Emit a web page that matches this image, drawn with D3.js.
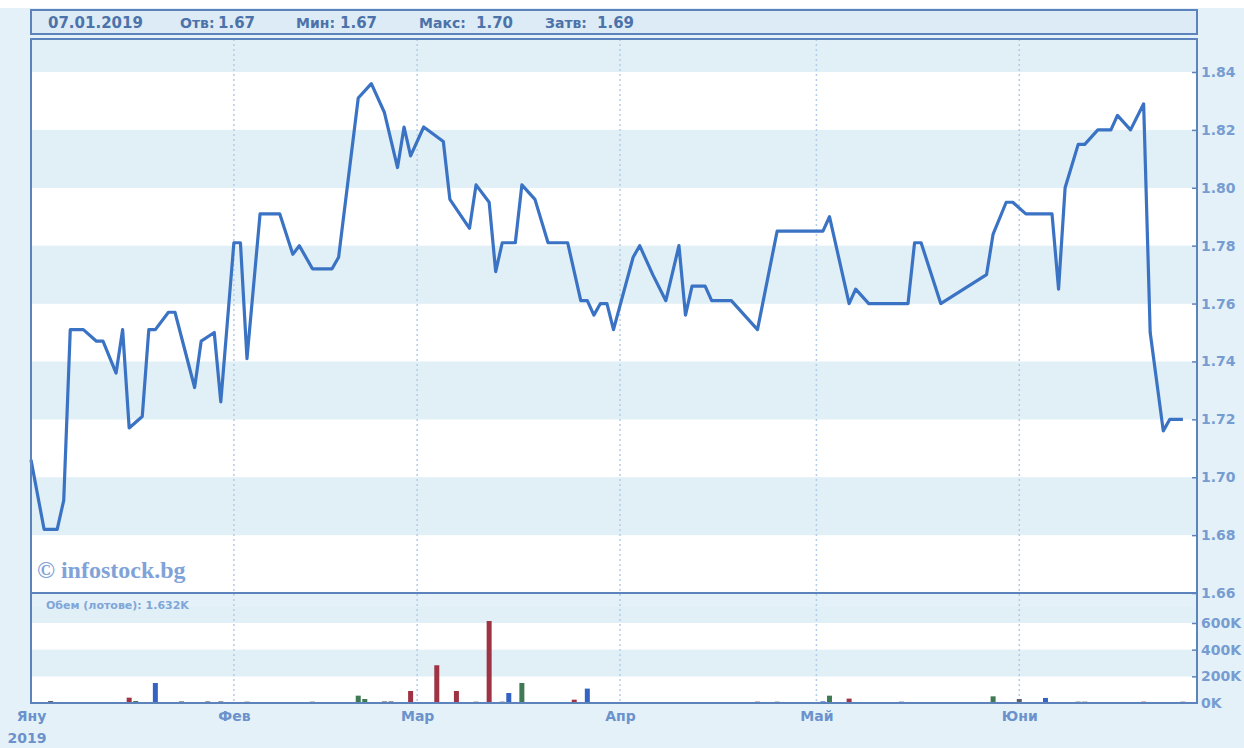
<!DOCTYPE html>
<html>
<head>
<meta charset="utf-8">
<script src="https://cdn.jsdelivr.net/npm/d3@7"></script>
<style>
  html, body { margin: 0; padding: 0; background: #e4f1f8; }
  svg { display: block; }
</style>
</head>
<body>
<svg id="chart" width="1244" height="748"></svg>
<script>
// price line (date, close)
const priceDates = [
  "2019-01-01","2019-01-03","2019-01-05","2019-01-06","2019-01-07","2019-01-09","2019-01-11","2019-01-12",
  "2019-01-14","2019-01-15","2019-01-16","2019-01-18","2019-01-19","2019-01-20","2019-01-22","2019-01-23",
  "2019-01-26","2019-01-27","2019-01-29","2019-01-30","2019-02-01","2019-02-02","2019-02-03","2019-02-05",
  "2019-02-08","2019-02-10","2019-02-11","2019-02-13","2019-02-16","2019-02-17","2019-02-20","2019-02-22",
  "2019-02-24","2019-02-26","2019-02-27","2019-02-28","2019-03-02","2019-03-05","2019-03-06","2019-03-09",
  "2019-03-10","2019-03-12","2019-03-13","2019-03-14","2019-03-16","2019-03-17","2019-03-19","2019-03-21",
  "2019-03-24","2019-03-26","2019-03-27","2019-03-28","2019-03-29","2019-03-30","2019-03-31","2019-04-03",
  "2019-04-04","2019-04-06","2019-04-08","2019-04-10","2019-04-11","2019-04-12","2019-04-14","2019-04-15",
  "2019-04-18","2019-04-22","2019-04-25","2019-05-02","2019-05-03","2019-05-06","2019-05-07","2019-05-09",
  "2019-05-15","2019-05-16","2019-05-17","2019-05-20","2019-05-27","2019-05-28","2019-05-30","2019-05-31",
  "2019-06-02","2019-06-06","2019-06-07","2019-06-08","2019-06-10","2019-06-11","2019-06-13","2019-06-15",
  "2019-06-16","2019-06-18","2019-06-20","2019-06-21","2019-06-23","2019-06-24","2019-06-26"
];
const priceValues = [
  1.706,1.682,1.682,1.692,1.751,1.751,1.747,1.747,
  1.736,1.751,1.717,1.721,1.751,1.751,1.757,1.757,
  1.731,1.747,1.750,1.726,1.781,1.781,1.741,1.791,
  1.791,1.777,1.780,1.772,1.772,1.776,1.831,1.836,
  1.826,1.807,1.821,1.811,1.821,1.816,1.796,1.786,
  1.801,1.795,1.771,1.781,1.781,1.801,1.796,1.781,
  1.781,1.761,1.761,1.756,1.760,1.760,1.751,1.776,
  1.780,1.770,1.761,1.780,1.756,1.766,1.766,1.761,
  1.761,1.751,1.785,1.785,1.790,1.760,1.765,1.760,
  1.760,1.781,1.781,1.760,1.770,1.784,1.795,1.795,
  1.791,1.791,1.765,1.800,1.815,1.815,1.820,1.820,
  1.825,1.820,1.829,1.750,1.716,1.720,1.720
];

// volume bars (lots)
const volumeDates = [
  "2019-01-04","2019-01-16","2019-01-17","2019-01-20","2019-01-24","2019-01-28","2019-01-30","2019-02-03",
  "2019-02-13","2019-02-20","2019-02-21","2019-02-24","2019-02-25","2019-02-28","2019-03-04","2019-03-07",
  "2019-03-10","2019-03-12","2019-03-14","2019-03-15","2019-03-17","2019-03-25","2019-03-27","2019-04-22",
  "2019-04-25","2019-05-02","2019-05-03","2019-05-06","2019-05-14","2019-05-28","2019-06-01","2019-06-05",
  "2019-06-10","2019-06-11","2019-06-20","2019-06-26"
];
const volumeValues = [
  15000,40000,15000,150000,12000,12000,12000,10000,
  10000,55000,30000,12000,12000,90000,283000,90000,
  10000,615000,10000,75000,150000,25000,108000,10000,
  10000,12000,55000,33000,10000,50000,30000,38000,
  10000,10000,10000,10000
];
const volumeKinds = [
  "n","r","g","b","n","n","n","n",
  "n","g","g","n","n","r","r","r",
  "n","r","n","b","g","r","b","r",
  "g","b","g","r","b","g","n","b",
  "n","n","r","n"
];

const priceTicks = [1.66,1.68,1.70,1.72,1.74,1.76,1.78,1.80,1.82,1.84];
const volumeTicks = [0,200000,400000,600000];
const monthStarts = ["2019-01-01","2019-02-01","2019-03-01","2019-04-01","2019-05-01","2019-06-01"];
const monthNames = ["Яну","Фев","Мар","Апр","Май","Юни"];

const headerParts = [
  {t: "07.01.2019", x: 48, size: 15},
  {t: "Отв:", x: 180, size: 14},
  {t: "1.67", x: 218, size: 15},
  {t: "Мин:", x: 296, size: 14},
  {t: "1.67", x: 340, size: 15},
  {t: "Макс:", x: 419, size: 14},
  {t: "1.70", x: 476, size: 15},
  {t: "Затв:", x: 545, size: 14},
  {t: "1.69", x: 597, size: 15}
];

const parse = d3.timeParse("%Y-%m-%d");
const svg = d3.select("#chart");

const plot = {left: 31, right: 1197, top: 39, mid: 593, bottom: 703};
const axisColor = "#5d83bd";
const labelColor = "#779cd2";
const colors = {r: "#9e3344", g: "#3f7a55", b: "#3563c4", n: "#5a6070"};

const x = d3.scaleTime()
  .domain([parse("2019-01-01"), parse("2019-06-28")])
  .range([plot.left, plot.right - 1]);

const y = d3.scaleLinear().domain([1.66, 1.84]).range([plot.mid, 72]);
const yv = d3.scaleLinear().domain([0, 600000]).range([plot.bottom, 623]);

// white strip at the very top (scanned page)
svg.append("rect").attr("x", 0).attr("y", 0).attr("width", 1244).attr("height", 8).attr("fill", "#fff");

// header box
svg.append("rect")
  .attr("x", plot.left).attr("y", 10)
  .attr("width", plot.right - plot.left).attr("height", 24)
  .attr("fill", "#dcebf5").attr("stroke", axisColor).attr("stroke-width", 2);

svg.append("g").selectAll("text")
  .data(headerParts)
  .join("text")
  .attr("x", d => d.x).attr("y", 28)
  .attr("font-family", "DejaVu Sans, sans-serif")
  .attr("font-weight", "bold")
  .attr("font-size", d => d.size)
  .attr("fill", "#4c72aa")
  .text(d => d.t);

// plot background bands
const bandStep = 0.02;
const priceBands = d3.range(0, 10).map(i => ({lo: 1.66 + i * bandStep, hi: 1.66 + (i + 1) * bandStep, i}));
svg.append("g").selectAll("rect")
  .data(priceBands)
  .join("rect")
  .attr("x", plot.left)
  .attr("width", plot.right - plot.left)
  .attr("y", d => Math.max(plot.top, y(d.hi)))
  .attr("height", d => y(d.lo) - Math.max(plot.top, y(d.hi)))
  .attr("fill", d => d.i % 2 ? "#e1eff7" : "#ffffff");

const volBands = [[0, 200000, 0], [200000, 400000, 1], [400000, 600000, 0], [600000, 720000, 1]];
svg.append("g").selectAll("rect")
  .data(volBands)
  .join("rect")
  .attr("x", plot.left)
  .attr("width", plot.right - plot.left)
  .attr("y", d => Math.max(plot.mid, yv(d[1])))
  .attr("height", d => yv(d[0]) - Math.max(plot.mid, yv(d[1])))
  .attr("fill", d => d[2] ? "#e1eff7" : "#ffffff");

// month grid lines
svg.append("g").selectAll("line")
  .data(monthStarts.slice(1))
  .join("line")
  .attr("x1", d => x(parse(d))).attr("x2", d => x(parse(d)))
  .attr("y1", plot.top).attr("y2", plot.bottom)
  .attr("stroke", "#b3cce8").attr("stroke-width", 1.5)
  .attr("stroke-dasharray", "2,3");

// watermark + volume title
svg.append("text")
  .attr("x", 37).attr("y", 578)
  .attr("font-family", "Liberation Serif, serif")
  .attr("font-weight", "bold").attr("font-size", 24)
  .attr("fill", "#7fa3d8")
  .text("© infostock.bg");

svg.append("text")
  .attr("x", 46).attr("y", 609)
  .attr("font-family", "DejaVu Sans, sans-serif")
  .attr("font-weight", "bold").attr("font-size", 11)
  .attr("fill", "#80a5d8")
  .text("Обем (лотове): 1.632K");

// volume bars
const vol = volumeDates.map((d, i) => ({date: parse(d), v: volumeValues[i], k: volumeKinds[i]}));
svg.append("g").selectAll("rect")
  .data(vol)
  .join("rect")
  .attr("x", d => x(d.date) - 2.5)
  .attr("width", 5)
  .attr("y", d => yv(d.v))
  .attr("height", d => plot.bottom - yv(d.v))
  .attr("fill", d => colors[d.k]);

// price line
const prices = priceDates.map((d, i) => ({date: parse(d), v: priceValues[i]}));
svg.append("path")
  .datum(prices)
  .attr("fill", "none")
  .attr("stroke", "#3b73c4")
  .attr("stroke-width", 3.2)
  .attr("stroke-linejoin", "round")
  .attr("d", d3.line().x(d => x(d.date)).y(d => y(d.v)));

// frame
svg.append("rect")
  .attr("x", plot.left).attr("y", plot.top)
  .attr("width", plot.right - plot.left).attr("height", plot.bottom - plot.top)
  .attr("fill", "none").attr("stroke", axisColor).attr("stroke-width", 2);
svg.append("line")
  .attr("x1", plot.left).attr("x2", plot.right)
  .attr("y1", plot.mid).attr("y2", plot.mid)
  .attr("stroke", axisColor).attr("stroke-width", 2);

// right axes
function styleAxis(g) {
  g.select(".domain").remove();
  g.selectAll(".tick line").attr("stroke", axisColor).attr("stroke-width", 1.5);
  g.selectAll(".tick text")
    .attr("fill", labelColor)
    .attr("font-family", "DejaVu Sans, sans-serif")
    .attr("font-weight", "bold")
    .attr("font-size", 14);
}

svg.append("g")
  .attr("transform", `translate(${plot.right},0)`)
  .call(d3.axisRight(y).tickValues(priceTicks).tickFormat(d3.format(".2f"))
    .tickSizeInner(-5).tickSizeOuter(0).tickPadding(4))
  .call(styleAxis);

svg.append("g")
  .attr("transform", `translate(${plot.right},0)`)
  .call(d3.axisRight(yv).tickValues(volumeTicks).tickFormat(d => (d / 1000) + "K")
    .tickSizeInner(-5).tickSizeOuter(0).tickPadding(4))
  .call(styleAxis)
  .call(g => g.selectAll(".tick").filter(d => d === 0).select("line").remove());

// month labels
svg.append("g")
  .attr("transform", `translate(0,${plot.bottom})`)
  .call(d3.axisBottom(x).tickValues(monthStarts.map(parse))
    .tickFormat((d, i) => monthNames[i]).tickSize(0).tickPadding(8))
  .call(g => g.select(".domain").remove())
  .call(g => g.selectAll(".tick text")
    .attr("fill", "#6b92cc")
    .attr("font-family", "DejaVu Sans, sans-serif")
    .attr("font-weight", "bold")
    .attr("font-size", 14));

svg.append("text")
  .attr("x", x(parse(monthStarts[0])) - 4).attr("y", 743)
  .attr("text-anchor", "middle")
  .attr("fill", "#6b92cc")
  .attr("font-family", "DejaVu Sans, sans-serif")
  .attr("font-weight", "bold").attr("font-size", 14)
  .text("2019");
</script>
</body>
</html>
